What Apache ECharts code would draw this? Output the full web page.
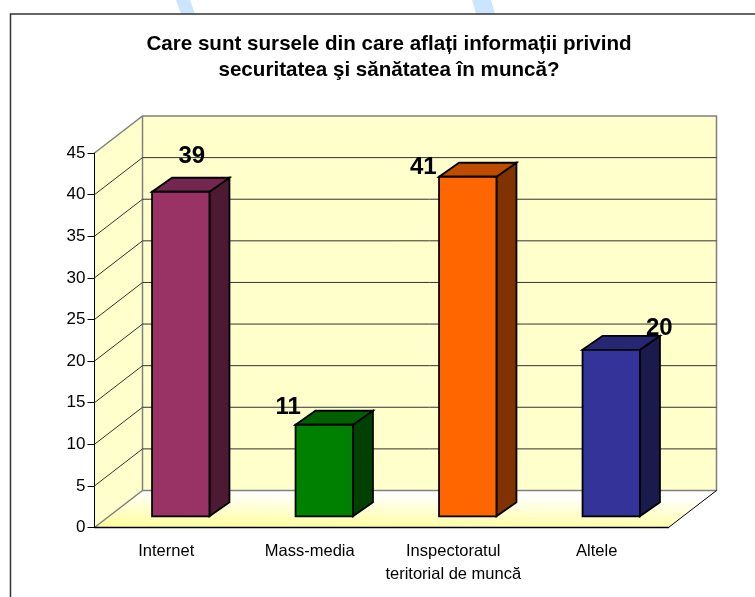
<!DOCTYPE html>
<html><head><meta charset="utf-8">
<style>html,body{margin:0;padding:0;background:#fff}#c{width:755px;height:597px}</style>
<script src="https://cdn.jsdelivr.net/npm/echarts@6/dist/echarts.min.js"></script>
</head><body><div id="c"></div>
<script>
const titleText = 'Care sunt sursele din care aflați informații privind\nsecuritatea şi sănătatea în muncă?';
const categories = ['Internet', 'Mass-media', 'Inspectoratul\nteritorial de muncă', 'Altele'];
const values = [39, 11, 40.8, 20];
const yTicks = [5, 10, 15, 20, 25, 30, 35, 40];
const yMin = 0, yMax = 45, yStep = 5;
const barColors = [
  ['#993366', '#732650', '#4D1A33'],
  ['#008000', '#006000', '#004000'],
  ['#FF6600', '#BF4D00', '#803300'],
  ['#333399', '#262673', '#1A1A4D']
];
const FONT = '"Liberation Sans", Arial, sans-serif';
const DEPTH = [48, -37];          // wall depth projection
const BAR_DEPTH = [20, -14];      // bar depth projection
const BAR_SHIFT = [14.5, -11.2];  // bar offset from the front plane
const LABEL_SHIFT = [[11, -35], [-36, -17], [-44.5, -9.5], [48, -21]];

function plane(api) {
  const half = api.size([1, 0])[0] / 2;
  return {
    left: api.coord([0, yMin])[0] - half,
    right: api.coord([categories.length - 1, yMin])[0] + half,
    bottom: api.coord([0, yMin])[1],
    top: api.coord([0, yMax])[1]
  };
}
function renderWalls(params, api) {
  const p = plane(api), dx = DEPTH[0], dy = DEPTH[1];
  const edge = '#808080';
  return { type: 'group', children: [
    { type: 'polygon', shape: { points: [[p.left, p.bottom], [p.left, p.top], [p.left + dx, p.top + dy], [p.left + dx, p.bottom + dy]] }, style: { fill: '#FFFFCC' } },
    { type: 'polygon', shape: { points: [[p.left + dx, p.top + dy], [p.right + dx, p.top + dy], [p.right + dx, p.bottom + dy], [p.left + dx, p.bottom + dy]] }, style: { fill: '#FFFFCC' } },
    { type: 'polygon', shape: { points: [[p.left, p.bottom], [p.left + dx, p.bottom + dy], [p.right + dx, p.bottom + dy], [p.right, p.bottom]] },
      style: { fill: { type: 'linear', x: 0, y: 1, x2: 0.0007, y2: 0, colorStops: [{ offset: 0, color: '#FFFF99' }, { offset: 1, color: '#FFFFFF' }] } } },
    { type: 'polyline', shape: { points: [[p.left, p.top], [p.left + dx, p.top + dy], [p.right + dx, p.top + dy], [p.right + dx, p.bottom + dy], [p.left + dx, p.bottom + dy], [p.left, p.bottom]] }, style: { fill: 'none', stroke: edge, lineWidth: 1.5 } },
    { type: 'line', shape: { x1: p.left + dx, y1: p.top + dy, x2: p.left + dx, y2: p.bottom + dy }, style: { stroke: edge, lineWidth: 1.5 } },
    { type: 'line', shape: { x1: p.right + dx, y1: p.bottom + dy, x2: p.right, y2: p.bottom }, style: { stroke: '#000', lineWidth: 1 } }
  ] };
}
function renderGrid(params, api) {
  const p = plane(api), y = api.coord([0, api.value(0)])[1];
  return { type: 'polyline', shape: { points: [[p.left, y], [p.left + DEPTH[0], y + DEPTH[1]], [p.right + DEPTH[0], y + DEPTH[1]]] },
    style: { fill: 'none', stroke: '#333', lineWidth: 1 } };
}
function renderBar(params, api) {
  const i = api.value(0), v = api.value(1);
  const base = api.coord([i, 0]), top = api.coord([i, v]);
  const w = api.size([1, 0])[0] / 2.5;
  const cx = base[0] + BAR_SHIFT[0], by = base[1] + BAR_SHIFT[1], ty = top[1] + BAR_SHIFT[1];
  const xl = cx - w / 2, xr = cx + w / 2, ddx = BAR_DEPTH[0], ddy = BAR_DEPTH[1];
  const c = barColors[i], st = '#000', lw = 1.8;
  return { type: 'group', children: [
    { type: 'polygon', shape: { points: [[xr, by], [xr, ty], [xr + ddx, ty + ddy], [xr + ddx, by + ddy]] }, style: { fill: c[2], stroke: st, lineWidth: lw } },
    { type: 'polygon', shape: { points: [[xl, ty], [xl + ddx, ty + ddy], [xr + ddx, ty + ddy], [xr, ty]] }, style: { fill: c[1], stroke: st, lineWidth: lw } },
    { type: 'polygon', shape: { points: [[xl, by], [xl, ty], [xr, ty], [xr, by]] }, style: { fill: c[0], stroke: st, lineWidth: lw } },
    { type: 'text', z2: 50, style: { text: String(Math.round(v)), x: cx + LABEL_SHIFT[i][0], y: ty + LABEL_SHIFT[i][1], align: 'center', verticalAlign: 'middle', font: 'bold 24px ' + FONT, fill: '#000' } }
  ] };
}
const chart = echarts.init(document.getElementById('c'), null, { renderer: 'canvas' });
chart.setOption({
  animation: false,
  backgroundColor: '#fff',
  title: { text: titleText, left: 384, top: 26, textAlign: 'center',
    textStyle: { fontFamily: FONT, fontWeight: 'bold', fontSize: 20.6, lineHeight: 26, color: '#000' } },
  grid: { left: 94.5, right: 86.5, top: 153, bottom: 69.5 },
  xAxis: { type: 'category', data: categories, z: 5,
    axisLine: { lineStyle: { color: '#000', width: 1.3 } },
    axisTick: { alignWithLabel: false, length: 7, lineStyle: { color: '#555', width: 1 } },
    axisLabel: { fontFamily: FONT, fontSize: 16.5, color: '#000', lineHeight: 23, margin: 12, interval: 0 } },
  yAxis: { type: 'value', min: yMin, max: yMax, interval: yStep, z: 5,
    axisLine: { show: true, lineStyle: { color: '#000', width: 1 } },
    axisTick: { show: true, length: 7, lineStyle: { color: '#000', width: 1 } },
    splitLine: { show: false },
    axisLabel: { fontFamily: FONT, fontSize: 17, color: '#000', margin: 9 } },
  graphic: [
    { type: 'polygon', z: 0, silent: true, shape: { points: [[176, 0], [190, 0], [195, 14], [181, 14]] }, style: { fill: '#CCE5FF' } },
    { type: 'polygon', z: 0, silent: true, shape: { points: [[476, 14], [495, 14], [491, 0], [472, 0]] }, style: { fill: '#CCE5FF' } },
    { type: 'polyline', z: 0, silent: true, shape: { points: [[10.5, 597], [10.5, 14], [755, 14]] }, style: { fill: 'none', stroke: '#333', lineWidth: 1.5 } }
  ],
  series: [
    { type: 'custom', z: 1, silent: true, renderItem: renderWalls, data: [0], encode: { x: null, y: null } },
    { type: 'custom', z: 2, silent: true, renderItem: renderGrid, data: yTicks.map(v => [v]), encode: { x: null, y: null } },
    { type: 'custom', z: 3, silent: true, renderItem: renderBar, data: values.map((v, i) => [i, v]), encode: { x: 0, y: 1 } }
  ]
});
</script></body></html>
